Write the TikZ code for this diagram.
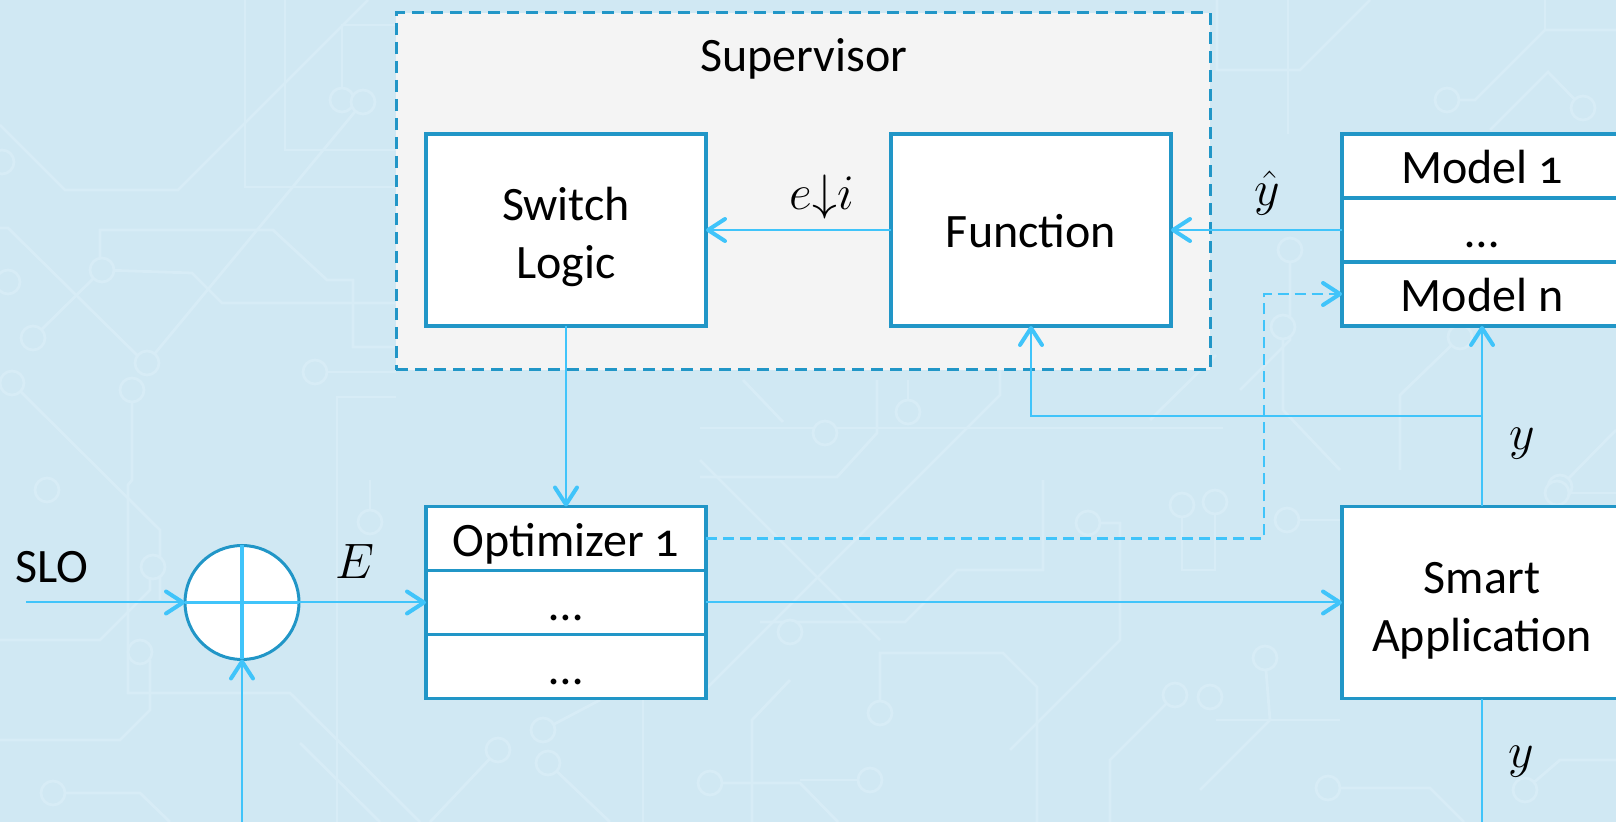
\documentclass[tikz,border=0pt]{standalone}
\usepackage{fontspec}
\setmainfont{Carlito}[Numbers=OldStyle]
\usetikzlibrary{arrows.meta}
\definecolor{bgblue}{RGB}{208,232,243}
\definecolor{traceblue}{RGB}{215,236,246}
\definecolor{boxblue}{RGB}{33,150,199}
\definecolor{linkblue}{RGB}{64,196,250}
\definecolor{supfill}{RGB}{244,244,244}
\begin{document}
\begin{tikzpicture}[x=0.5pt,y=-0.5pt,
  font=\fontsize{24}{29}\selectfont,
  >={Straight Barb[length=8.5pt,width=11pt,line width=2pt,round]},
  box/.style={draw=boxblue,line width=1.6pt,fill=white,inner sep=0pt,outer sep=0pt,
    minimum width=140pt,minimum height=96pt,text height=19pt,text depth=1pt},
  row/.style={draw=boxblue,line width=1.6pt,fill=white,inner sep=0pt,outer sep=0pt,
    minimum width=140pt,minimum height=32pt,text height=19pt,text depth=1pt},
  supbox/.style={draw=boxblue,fill=supfill,line width=1.5pt,dash pattern=on 6pt off 3.5pt,
    inner sep=0pt,outer sep=0pt,minimum width=407pt,minimum height=178.5pt},
  txt/.style={inner sep=0pt,align=center},
  conn/.style={draw=linkblue,line width=1pt},
  dconn/.style={conn,line width=1.2pt,dash pattern=on 5.5pt off 3pt},
  trace/.style={draw=traceblue,line width=1.4pt},
  pad/.style={draw=traceblue,fill=bgblue,line width=1.4pt}]

% page and background
\useasboundingbox (0,0) rectangle (1616,822);
\clip (0,0) rectangle (1616,822);
\fill[bgblue] (0,0) rectangle (1616,822);

% faint circuit-board traces
\draw[trace] (0,125) -- (65,190) -- (178,190) -- (368,0);
\draw[trace] (245,0) -- (245,187) -- (396,187);
\draw[trace] (285,0) -- (285,150) -- (396,150);
\draw[trace] (342,100) -- (342,25) -- (396,25);
\draw[trace] (363,102) -- (147,363);
\draw[trace] (0,228) -- (8,228) -- (145,363);
\draw[trace] (100,270) -- (100,230) -- (273,230) -- (327,280) -- (353,280) -- (353,347) -- (396,347);
\draw[trace] (102,270) -- (192,273) -- (222,303) -- (396,303);
\draw[trace] (102,270) -- (33,338);
\draw[trace] (12,383) -- (160,530) -- (160,600);
\draw[trace] (132,390) -- (132,480) -- (128,485) -- (128,693) -- (290,693) -- (420,822);
\draw[trace] (315,372) -- (396,372);
\draw[trace] (337,822) -- (337,397) -- (396,397);
\draw[trace] (0,640) -- (100,640) -- (150,590) -- (150,567);
\draw[trace] (0,740) -- (120,740) -- (150,710) -- (150,660);
\draw[trace] (53,793) -- (140,793) -- (170,822);
\draw[trace] (370,480) -- (370,522);
\draw[trace] (300,743) -- (380,822);
\draw[trace] (498,750) -- (430,822);
\draw[trace] (548,763) -- (610,822);
\draw[trace] (543,730) -- (600,700);
\draw[trace] (643,700) -- (643,822);
\draw[trace] (710,783) -- (800,783) -- (838,822);
\draw[trace] (752,822) -- (752,720) -- (790,680);
\draw[trace] (700,428) -- (1223,428);
\draw[trace] (908,412) -- (908,380);
\draw[trace] (743,380) -- (783,422);
\draw[trace] (700,477) -- (837,477) -- (877,433) -- (877,380);
\draw[trace] (880,713) -- (880,653) -- (1003,653) -- (1037,687) -- (1037,822);
\draw[trace] (1043,480) -- (1043,570) -- (957,570) -- (905,622) -- (760,622);
\draw[trace] (700,460) -- (880,640);
\draw[trace] (705,690) -- (940,455) -- (1000,395) -- (1000,370);
\draw[trace] (1088,523) -- (1120,523) -- (1120,640) -- (1010,750);
\draw[trace] (1182,505) -- (1182,570) -- (1216,570);
\draw[trace] (1175,695) -- (1110,760) -- (1110,822);
\draw[trace] (870,780) -- (800,780);
\draw[trace] (1150,420) -- (1216,355);
\draw[trace] (1217,0) -- (1217,70) -- (1300,70) -- (1370,0);
\draw[trace] (1288,0) -- (1288,134);
\draw[trace] (1447,100) -- (1475,100) -- (1545,30) -- (1616,30);
\draw[trace] (1545,0) -- (1545,30);
\draw[trace] (1583,108) -- (1548,72) -- (1490,130);
\draw[trace] (1290,250) -- (1290,340) -- (1240,390);
\draw[trace] (1283,327) -- (1283,410) -- (1340,470);
\draw[trace] (1460,337) -- (1400,395) -- (1400,470);
\draw[trace] (1560,487) -- (1616,430);
\draw[trace] (1215,502) -- (1215,570);
\draw[trace] (1287,520) -- (1340,520);
\draw[trace] (1265,658) -- (1270,720) -- (1200,790);
\draw[trace] (1216,720) -- (1340,720);
\draw[trace] (1328,788) -- (1430,788) -- (1464,822);
\draw[trace] (1525,790) -- (1560,760) -- (1616,760);
\draw[trace] (1557,493) -- (1616,493);
\foreach \p in {(342,100),(363,102),(147,363),(102,270),(33,338),(8,282),(2,162),
  (12,383),(132,390),(315,372),(47,490),(153,567),(140,652),(53,793),(370,522),
  (498,750),(543,730),(548,763),(710,783),(825,433),(908,412),(790,632),(880,713),
  (1088,523),(1182,505),(1175,695),(870,780),(1447,100),(1583,108),(1290,250),
  (1283,327),(1460,337),(1560,487),(1215,502),(1287,520),(1265,658),(1210,697),
  (1328,788),(1525,790),(1557,493)}
  \draw[pad] \p circle[radius=6pt];

% supervisor frame
\node[supbox] (sup) at (803,191.5) {};
\node[txt,anchor=base] (suplabel) at (804,72) {Supervisor};

% blocks
\node[box] (sl) at (566,230) {};
\node[txt] (sltext) at (566,237) {Switch\\Logic};
\node[box] (fn) at (1031,230) {Function};

\node[row] (m1) at (1482,166) {Model 1};
\node[row] (m2) at (1482,230) {\dots};
\node[row] (mn) at (1482,294) {Model n};

\node[row] (o1) at (566,538.5) {Optimizer 1};
\node[row] (o2) at (566,602.5) {\dots};
\node[row] (o3) at (566,666.5) {\dots};

\node[box] (sa) at (1482,602.5) {};
\node[txt] (satext) at (1482,611) {Smart\\Application};

% summing junction
\node[circle,draw=boxblue,fill=white,line width=1.5pt,minimum size=57pt,inner sep=0pt,outer sep=0pt] (sum) at (242,602.5) {};
\draw[draw=linkblue,line width=1.8pt] (sum.west) -- (sum.east) (sum.north) -- (sum.south);

% free ends
\coordinate (slo) at (26,602.5);
\coordinate (fbbot) at (242,830);
\coordinate (ybot) at (1482,830);
\coordinate (ybranch) at (1482,416);
\coordinate (dashx) at (1264,0);

% connectors
\draw[conn,->] (slo) -- (sum.west);
\draw[conn,->] (sum.east) -- (o2.west);
\draw[conn,->] (fbbot) -- (sum.south);
\draw[conn,->] (sl.south) -- (o1.north);
\draw[conn,->] (fn.west) -- (sl.east);
\draw[conn,->] (m2.west) -- (fn.east);
\draw[conn,->] (o2.east) -- (sa.west);
\draw[conn,->] (sa.north) -- (mn.south);
\draw[conn,->] (ybranch) -| (fn.south);
\draw[conn] (sa.south) -- (ybot);
\draw[dconn,->] (o1.east) -- (o1.east -| dashx) |- (mn.west);

% signal labels
\node[txt,anchor=base west] (slolabel) at (15,583) {SLO};
\node[txt,anchor=base] (elabel) at (355,579) {$E$};
\node[txt,anchor=base] (eilabel) at (822,210) {$e{\downarrow}i$};
\node[txt,anchor=base] (yhatlabel) at (1267,206) {$\hat{y}$};
\node[txt,anchor=base] (ylabel) at (1522,450) {$y$};
\node[txt,anchor=base] (ylabelb) at (1521,767) {$y$};
\end{tikzpicture}
\end{document}
